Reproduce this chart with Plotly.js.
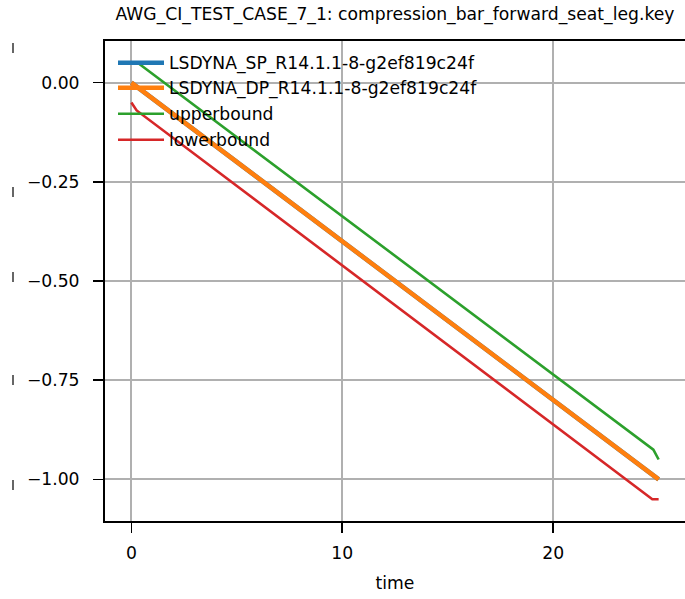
<!DOCTYPE html>
<html>
<head>
<meta charset="utf-8">
<script src="https://cdn.plot.ly/plotly-3.0.1.min.js"></script>
<style>html,body{margin:0;padding:0;background:#fff;}#chart{width:685px;height:599px;}</style>
</head>
<body>
<div id="chart"></div>
<script>
// ---- data ----
const titleText = "AWG_CI_TEST_CASE_7_1: compression_bar_forward_seat_leg.key";
const seriesNames = ["LSDYNA_SP_R14.1.1-8-g2ef819c24f", "LSDYNA_DP_R14.1.1-8-g2ef819c24f", "upperbound", "lowerbound"];
const spTime = [0, 25];
const spValue = [0.0, -1.0];
const dpTime = [0, 25];
const dpValue = [0.0, -1.0];
const upperTime = [0, 0.3, 24.75, 25];
const upperValue = [0.05, 0.05, -0.925, -0.95];
const lowerTime = [0, 0.25, 24.7, 25];
const lowerValue = [-0.05, -0.07, -1.05, -1.05];
const xTickVals = [0, 10, 20];
const yTickVals = [0.0, -0.25, -0.5, -0.75, -1.0];
const xLabel = "time";

// ---- styling ----
const colors = ["#1f77b4", "#ff7f0e", "#2ca02c", "#d62728"];
const widths = [4.5, 4.5, 2.6, 2.6];
const font = "DejaVu Sans, sans-serif";
const FS = 17.2;
const W = 685, H = 599, L = 105, R = 0, T = 41, B = 78;
const plotW = W - L - R, plotH = H - T - B;
const px2x = p => (p - L) / plotW;
const py2y = p => (H - B - p) / plotH;

const xs = [spTime, dpTime, upperTime, lowerTime];
const ys = [spValue, dpValue, upperValue, lowerValue];
const legendIds = ["legend", "legend2", "legend3", "legend4"];
const traces = seriesNames.map((n, i) => ({
  type: "scatter", mode: "lines", name: n,
  x: xs[i], y: ys[i],
  line: {color: colors[i], width: widths[i]},
  legend: legendIds[i], hoverinfo: "skip"
}));

const legendRowY = [63, 88, 114, 140];
const layout = {
  width: W, height: H,
  margin: {l: L, r: R, t: T, b: B, pad: 0},
  paper_bgcolor: "#fff", plot_bgcolor: "#fff",
  font: {family: font, size: FS, color: "#000"},
  title: {text: titleText, x: 395 / W, xanchor: "center", y: 1 - 14 / H, yanchor: "middle",
          font: {family: font, size: FS, color: "#000"}},
  xaxis: {
    range: [-1.25, 26.25], tickvals: xTickVals, ticktext: xTickVals.map(String),
    showgrid: true, gridcolor: "#b0b0b0", gridwidth: 1.8, zeroline: false,
    showline: true, linecolor: "#000", linewidth: 2, mirror: true,
    ticks: "outside", ticklen: 10, tickwidth: 1.6, tickcolor: "#000",
    ticklabelstandoff: 5,
    tickfont: {family: font, size: FS, color: "#000"},
    title: {text: xLabel, font: {family: font, size: FS, color: "#000"}, standoff: 15}
  },
  yaxis: {
    range: [-1.105, 0.105], tickvals: yTickVals, tickformat: ".2f",
    showgrid: true, gridcolor: "#b0b0b0", gridwidth: 1.8, zeroline: false,
    showline: true, linecolor: "#000", linewidth: 2, mirror: true,
    ticks: "outside", ticklen: 10, tickwidth: 1.6, tickcolor: "#000",
    ticklabelstandoff: 10,
    tickfont: {family: font, size: FS, color: "#000"}
  },
  showlegend: true,
  shapes: []
};
legendIds.forEach((id, i) => {
  layout[id] = {
    x: px2x(113), xanchor: "left",
    y: py2y(legendRowY[i]), yanchor: "middle",
    itemwidth: 46,
    bgcolor: "rgba(0,0,0,0)", borderwidth: 0,
    font: {family: font, size: FS, color: "#000"}
  };
});
// small marks at the far left
const markY = [48, 192, 277, 380, 485];
markY.forEach(p => {
  layout.shapes.push({type: "line", xref: "paper", yref: "paper",
    x0: px2x(13), x1: px2x(13), y0: py2y(p - 5), y1: py2y(p + 5),
    line: {color: "#333", width: 1.5}});
});

Plotly.newPlot("chart", traces, layout, {staticPlot: true, displayModeBar: false});
</script>
</body>
</html>
